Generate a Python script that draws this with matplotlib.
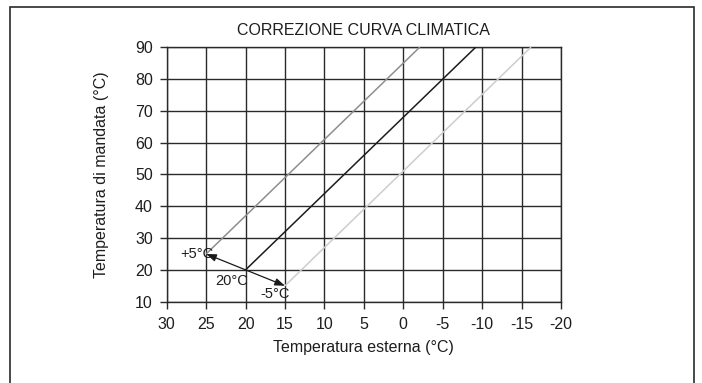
import matplotlib
matplotlib.use("Agg")
import matplotlib.pyplot as plt
from matplotlib.patches import Rectangle

plt.rcParams["font.family"] = ["Liberation Sans", "DejaVu Sans"]

# heating curves: start point (external temp, flow temp) and the point where they leave the top
curve_names = ["+5°C", "20°C", "-5°C"]
start_x = [25, 20, 15]
start_y = [25, 20, 15]
end_x = [-2.1, -9.2, -16.2]
end_y = [90, 90, 90]
curve_colors = ["#8e8e8e", "#1c1c1c", "#cdcdcd"]

x_ticks = [30, 25, 20, 15, 10, 5, 0, -5, -10, -15, -20]
y_ticks = [10, 20, 30, 40, 50, 60, 70, 80, 90]

TXT = "#1e1e1e"
GRID = "#2a2a2a"
FS = 11.5

fig = plt.figure(figsize=(7.02, 3.83), dpi=100)
ax = fig.add_axes([0.2375, 0.2123, 0.5616, 0.6647])

for sx, sy, ex, ey, c in zip(start_x, start_y, end_x, end_y, curve_colors):
    ax.plot([sx, ex], [sy, ey], color=c, lw=1.1, solid_capstyle="butt", zorder=3)

# offset arrows from the 20°C base point to the shifted curves
for sx, sy in ((start_x[0], start_y[0]), (start_x[2], start_y[2])):
    ax.annotate("", xy=(sx, sy), xytext=(start_x[1], start_y[1]),
                arrowprops=dict(arrowstyle="-|>,head_length=0.6,head_width=0.22",
                                color="#1a1a1a", lw=0.9, shrinkA=0, shrinkB=0),
                zorder=4)

ax.text(start_x[0] - 0.9, start_y[0], curve_names[0], ha="right", va="center",
        fontsize=10.5, color=TXT)
ax.text(start_x[1] - 0.3, start_y[1] - 1.2, curve_names[1], ha="right", va="top",
        fontsize=10.5, color=TXT)
ax.text(start_x[2] - 0.6, start_y[2] - 0.4, curve_names[2], ha="right", va="top",
        fontsize=10.5, color=TXT)

ax.set_xlim(30, -20)
ax.set_ylim(10, 90)
ax.set_xticks(x_ticks)
ax.set_xticklabels([str(v) for v in x_ticks])
ax.set_yticks(y_ticks)
ax.grid(True, color=GRID, lw=1.0)
for s in ax.spines.values():
    s.set_color(GRID)
    s.set_linewidth(1.0)
ax.tick_params(colors=GRID, labelcolor=TXT, labelsize=FS, length=5, width=1.0)
ax.tick_params(axis="x", pad=6)
ax.tick_params(axis="y", pad=5)

ax.set_xlabel("Temperatura esterna (°C)", fontsize=FS, color=TXT, labelpad=6)
ax.set_ylabel("Temperatura di mandata (°C)", fontsize=FS, color=TXT, labelpad=19)
ax.set_title("CORREZIONE CURVA CLIMATICA", fontsize=FS, color=TXT, pad=9)

# outer frame, open at the bottom
fig.patches.append(Rectangle((10 / 702, -0.1), (694 - 10) / 702, 1.1 - 7 / 383,
                             transform=fig.transFigure, fill=False,
                             edgecolor="#2a2a2a", lw=1.2))

fig.savefig("out.png", dpi=100, facecolor="white")
